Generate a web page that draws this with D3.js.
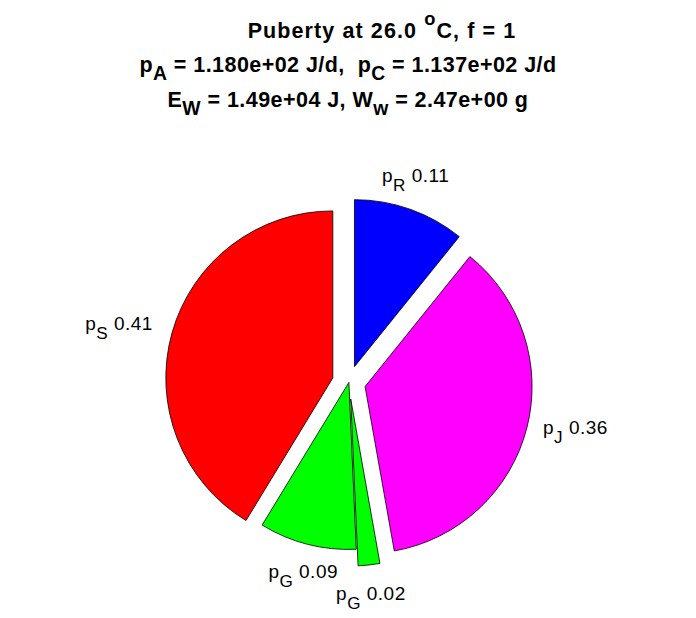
<!DOCTYPE html>
<html><head><meta charset="utf-8">
<script src="https://cdn.jsdelivr.net/npm/d3@7"></script>
<style>
body{margin:0;background:#fff}
svg{display:block}
text{white-space:pre;font-family:"Liberation Sans",Arial,Helvetica,sans-serif;fill:#000}
</style>
</head><body>
<svg id="chart" width="696" height="618"></svg>
<script>
// ---- data ----
const sliceSubs    = ["R", "J", "G", "G", "S"];
const sliceValues  = [0.108, 0.364, 0.021, 0.094, 0.413];
const sliceColors  = ["#0000ff", "#ff00ff", "#00ff00", "#00ff00", "#ff0000"];
const sliceExplode = [1, 1, 1, 0, 1];

const titleLine1 = [{t:"Puberty at 26.0 "}, {t:"o", sup:true}, {t:"C, f = 1"}];
const titleLine2 = [{t:"p"}, {t:"A", sub:true}, {t:" = 1.180e+02 J/d,  p"}, {t:"C", sub:true}, {t:" = 1.137e+02 J/d"}];
const titleLine3 = [{t:"E"}, {t:"W", sub:true}, {t:" = 1.49e+04 J, W"}, {t:"w", sub:true}, {t:" = 2.47e+00 g"}];

// ---- layout ----
const W = 696, H = 618;
const cx = 348.9, cy = 382.4, R = 167;
const svg = d3.select("#chart");

function rich(sel, segs, size, subShift, supShift){
  let cur = 0;
  segs.forEach(s => {
    const target = s.sub ? subShift*size : (s.sup ? -supShift*size : 0);
    const ts = sel.append("tspan").text(s.t);
    if (target !== cur) ts.attr("dy", target - cur);
    if (s.sup) ts.style("font-size", (size*0.85)+"px");
    if (s.sub) ts.style("font-size", (size*0.9)+"px");
    cur = target;
  });
  return sel;
}

// title
const titleSize = 21.5;
[[titleLine1, 38, 34, 1.1], [titleLine2, 72, 0, 0.45], [titleLine3, 107, 0, 0.45]].forEach(([segs, y, dx, ls]) => {
  const t = svg.append("text")
    .attr("x", W/2 + dx).attr("y", y)
    .attr("text-anchor", "middle")
    .style("font-weight", "bold").style("font-size", titleSize+"px")
    .style("letter-spacing", ls+"px");
  rich(t, segs, titleSize, 0.38, 0.6);
});

// pie
const data = sliceValues.map((v,i) => ({v, sub:sliceSubs[i], color:sliceColors[i], ex:sliceExplode[i]}));
const pie = d3.pie().sort(null).value(d => d.v);
const arc = d3.arc().innerRadius(0).outerRadius(R);
const arcs = pie(data);

const labelSize = 19;
arcs.forEach(a => {
  const mid = (a.startAngle + a.endAngle)/2;
  const sx = Math.sin(mid), sy = -Math.cos(mid);
  const off = a.data.ex * 0.1 * R;
  const ox = cx + off*sx, oy = cy + off*sy;
  svg.append("path")
    .attr("transform", `translate(${ox},${oy})`)
    .attr("d", arc(a))
    .attr("fill", a.data.color)
    .attr("stroke", "#000").attr("stroke-width", 0.8).attr("stroke-linejoin", "miter");

  let lx = ox + 1.1*R*sx, ly = oy + 1.1*R*sy;
  let anchor, valign;
  if (Math.abs(sx) < 0.5) { anchor = "middle"; valign = sy > 0 ? "top" : "bottom"; }
  else { anchor = sx > 0 ? "start" : "end"; valign = "middle"; }
  if (anchor === "end") lx -= 3;
  const t = svg.append("text")
    .attr("x", lx).attr("y", ly)
    .attr("text-anchor", anchor)
    .style("font-size", labelSize+"px")
    .style("letter-spacing", "0.5px");
  rich(t, [{t:"p"}, {t:a.data.sub, sub:true}, {t:" " + (a.data.v).toFixed(2)}], labelSize, 0.47, 0.6);
  const bb = t.node().getBBox();
  let shift = 0;
  if (valign === "top") shift = ly - bb.y + 1;
  else if (valign === "bottom") shift = ly - (bb.y + bb.height) + 2;
  else shift = ly - (bb.y + bb.height/2);
  t.attr("y", ly + shift);
});
</script>
</body></html>
